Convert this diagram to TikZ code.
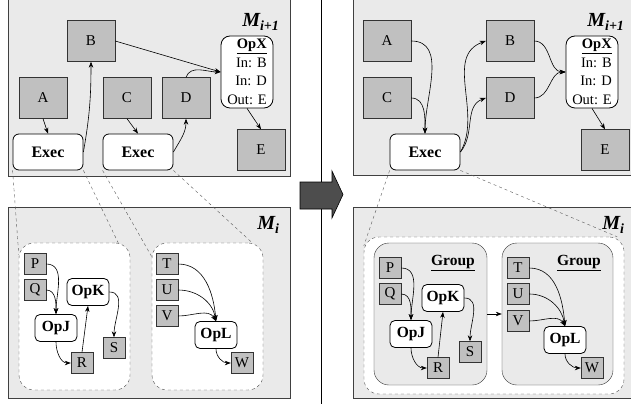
\documentclass[tikz,border=0pt]{standalone}
\usepackage{fontspec}
\setmainfont{Liberation Serif}
\usetikzlibrary{arrows.meta}
\definecolor{panelgray}{RGB}{234,234,234}
\definecolor{datagray}{RGB}{192,192,192}
\definecolor{arrowgray}{RGB}{77,77,77}
\newcommand{\lvl}[1]{{\bfseries\itshape M\textsubscript{#1}}}

\begin{document}
\begin{tikzpicture}[
    x=1pt, y=-1pt,
    >={Stealth[length=6pt,width=4.5pt]},
    panel/.style={draw=black!75, fill=panelgray, line width=0.8pt},
    databox/.style={draw=black!80, fill=datagray, minimum width=48pt, minimum height=41pt, inner sep=0pt, font=\fontsize{15}{16}\selectfont},
    smallbox/.style={draw=black!80, fill=datagray, minimum width=22pt, minimum height=21pt, inner sep=0pt, font=\fontsize{15}{16}\selectfont},
    execbox/.style={draw, fill=white, rounded corners=6pt, thick, minimum width=70pt, minimum height=36pt, font=\fontsize{16}{16}\selectfont\bfseries},
    opbox/.style={draw, fill=white, rounded corners=5pt, thick, minimum width=42pt, minimum height=27pt, inner sep=0pt, font=\fontsize{15.5}{16}\selectfont\bfseries},
    opxbox/.style={draw, fill=white, rounded corners=9pt, thick, minimum width=52pt, minimum height=72pt, inner sep=2pt, align=right, font=\fontsize{14.5}{18.5}\selectfont},
    zonebox/.style={draw=black!70, dashed, fill=white, rounded corners=15pt, inner sep=0pt},
    groupbox/.style={draw=black!80, fill=panelgray, rounded corners=15pt, inner sep=0pt, minimum height=142pt},
    grouplabel/.style={font=\fontsize{15.5}{16}\selectfont\bfseries},
    level/.style={font=\fontsize{20}{22}\selectfont, anchor=east},
    flow/.style={->, line width=0.6pt},
    zoomline/.style={dashed, black!65, line width=0.4pt},
    ]
    \useasboundingbox (0,0) rectangle (631,414);

    % panels
    \draw[panel] (8,-2) rectangle (290,176);
    \draw[panel] (353,-2) rectangle (633,175);
    \draw[panel] (8,207) rectangle (290,398);
    \draw[panel] (353,207) rectangle (633,398);
    \draw[line width=0.8pt] (321,0) -- (321,404);
    \draw[fill=arrowgray, line width=0.6pt] (300,182) -- (332,182) -- (332,171) -- (343,194.5)
        -- (332,218) -- (332,209) -- (300,209) -- cycle;

    \node[level] (lvlTL) at (283,22) {\lvl{i+1}};
    \node[level] (lvlTR) at (628,22) {\lvl{i+1}};
    \node[level] (lvlBL) at (283,225) {\lvl{i}};
    \node[level] (lvlBR) at (628,225) {\lvl{i}};

    % upper level, before
    \node[databox] (a1) at (43,98) {A};
    \node[databox] (b1) at (91,41) {B};
    \node[databox] (c1) at (127,98) {C};
    \node[databox] (d1) at (186,98) {D};
    \node[databox] (e1) at (261,150) {E};
    \node[opxbox] (opx1) at (247,72) {\underline{\textbf{OpX}}\\In: B\\In: D\\Out: E};
    \node[execbox] (exec1) at (48,152) {Exec};
    \node[execbox] (exec2) at (138,152) {Exec};
    \draw[flow] (a1.south) -- (exec1.north);
    \draw[flow] (c1.south) -- (exec2.north);
    \draw[flow] (exec1.east) to[out=80,in=-90] (b1.south);
    \draw[flow] (exec2.east) to[out=60,in=-90] (d1.south);
    \draw[flow] (b1.east) -- (opx1.west);
    \draw[flow] (d1.north) to[out=70,in=180] (opx1.west);
    \draw[flow] (opx1.south) -- (e1.north);

    % upper level, after
    \node[databox] (a2) at (387,41) {A};
    \node[databox] (c2) at (387,98) {C};
    \node[databox] (b2) at (510,41) {B};
    \node[databox] (d2) at (510,98) {D};
    \node[databox] (e2) at (605,150) {E};
    \node[opxbox] (opx2) at (592,72) {\underline{\textbf{OpX}}\\In: B\\In: D\\Out: E};
    \node[execbox] (exec3) at (425,152) {Exec};
    \draw[flow] (a2.east) to[out=0,in=90] (exec3.north);
    \draw[flow] (c2.east) to[out=0,in=90] (exec3.north);
    \draw[flow] (exec3.east) to[out=60,in=200] (b2.west);
    \draw[flow] (exec3.east) to[out=50,in=200] (d2.west);
    \draw[flow] (b2.east) to[out=0,in=180] (opx2.west);
    \draw[flow] (d2.east) to[out=0,in=180] (opx2.west);
    \draw[flow] (opx2.south) -- (e2.north);

    % lower level, before
    \node[zonebox, minimum width=111pt, minimum height=147pt] (zoneJ) at (74.5,316.5) {};
    \node[zonebox, minimum width=111pt, minimum height=147pt] (zoneL) at (207.5,316.5) {};
    \node[smallbox] (p1) at (35,264) {P};
    \node[smallbox] (q1) at (35,290) {Q};
    \node[opbox] (opk1) at (88,292) {OpK};
    \node[opbox] (opj1) at (56,328) {OpJ};
    \node[smallbox] (s1) at (114,348) {S};
    \node[smallbox] (r1) at (82,363) {R};
    \node[smallbox] (t1) at (167,264) {T};
    \node[smallbox] (u1) at (167,290) {U};
    \node[smallbox] (v1) at (167,316) {V};
    \node[opbox] (opl1) at (216,335) {OpL};
    \node[smallbox] (w1) at (242,363) {W};
    \draw[flow] (p1.east) to[out=0,in=90] (opj1.north);
    \draw[flow] (q1.east) to[out=0,in=90] (opj1.north);
    \draw[flow] (opj1.south) to[out=-90,in=180] (r1.west);
    \draw[flow] (r1.north) -- (opk1.south);
    \draw[flow] (opk1.east) to[out=0,in=90] (s1.north);
    \draw[flow] (t1.east) to[out=0,in=95] (opl1.north);
    \draw[flow] (u1.east) to[out=0,in=100] (opl1.north);
    \draw[flow] (v1.east) to[out=0,in=120] (opl1.north);
    \draw[flow] (opl1.south) to[out=-90,in=180] (w1.west);

    % lower level, after
    \node[zonebox, minimum width=260pt, minimum height=157pt] (zoneG) at (494,315.5) {};
    \node[groupbox, minimum width=113pt] (grpJ) at (430.5,314) {};
    \node[groupbox, minimum width=111pt] (grpL) at (557.5,314) {};
    \node[grouplabel] (lblJ) at (453,263) {\underline{Group}};
    \node[grouplabel] (lblL) at (579,263) {\underline{Group}};
    \node[smallbox] (p2) at (390,268) {P};
    \node[smallbox] (q2) at (390,294) {Q};
    \node[opbox] (opk2) at (443,298) {OpK};
    \node[opbox] (opj2) at (411,334) {OpJ};
    \node[smallbox] (s2) at (470,352) {S};
    \node[smallbox] (r2) at (438,368) {R};
    \node[smallbox] (t2) at (518,268) {T};
    \node[smallbox] (u2) at (518,294) {U};
    \node[smallbox] (v2) at (518,321) {V};
    \node[opbox] (opl2) at (565,340) {OpL};
    \node[smallbox] (w2) at (592,368) {W};
    \draw[flow] (p2.east) to[out=0,in=90] (opj2.north);
    \draw[flow] (q2.east) to[out=0,in=90] (opj2.north);
    \draw[flow] (opj2.south) to[out=-90,in=180] (r2.west);
    \draw[flow] (r2.north) -- (opk2.south);
    \draw[flow] (opk2.east) to[out=0,in=90] (s2.north);
    \draw[flow] (t2.east) to[out=0,in=95] (opl2.north);
    \draw[flow] (u2.east) to[out=0,in=100] (opl2.north);
    \draw[flow] (v2.east) to[out=0,in=120] (opl2.north);
    \draw[flow] (opl2.south) to[out=-90,in=180] (w2.west);
    \draw[flow] (grpJ.east) -- (grpL.west);

    % zoom lines
    \draw[zoomline] (exec1.south west) -- ([yshift=-12pt]zoneJ.north west);
    \draw[zoomline] (exec1.south east) -- ([xshift=-12pt]zoneJ.north east);
    \draw[zoomline] (exec2.south west) -- ([yshift=-14pt]zoneL.north west);
    \draw[zoomline] (exec2.south east) -- ([xshift=-11pt]zoneL.north east);
    \draw[zoomline] (exec3.south west) -- ([yshift=-9pt]zoneG.north west);
    \draw[zoomline] (exec3.south east) -- ([xshift=-7pt]zoneG.north east);
\end{tikzpicture}
\end{document}
